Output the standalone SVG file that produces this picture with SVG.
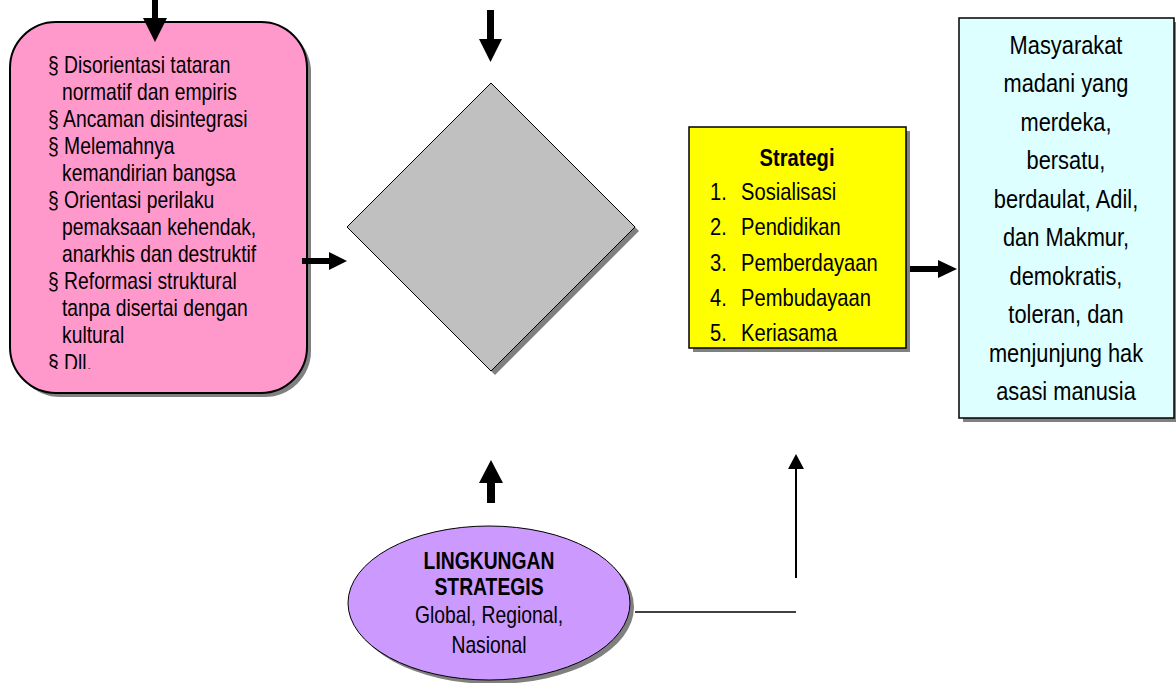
<svg xmlns="http://www.w3.org/2000/svg" width="1176" height="683" viewBox="0 0 1176 683">
<style>
.t{font-family:"Liberation Sans Narrow","Arial Narrow","Liberation Sans",Arial,sans-serif;fill:#000}
.p{font-size:23px}
.y{font-size:24px}
.c{font-size:26px;text-anchor:middle}
.e{font-size:23px;text-anchor:middle}
.b{font-weight:bold}
.sh{fill:#808080}
</style>
<defs>
<clipPath id="pclip"><rect x="10" y="22" width="297" height="347"/></clipPath>
</defs>
<g id="pink">
<rect x="14" y="26" width="297" height="371" rx="46" class="sh"/>
<rect x="10" y="22" width="297" height="371" rx="46" fill="#FF99CC" stroke="#000" stroke-width="2"/>
<g class="t p" clip-path="url(#pclip)">
<text transform="translate(48,73) scale(0.84,1)">§ Disorientasi tataran</text>
<text transform="translate(62,100) scale(0.84,1)">normatif dan empiris</text>
<text transform="translate(48,127) scale(0.84,1)">§ Ancaman disintegrasi</text>
<text transform="translate(48,154) scale(0.84,1)">§ Melemahnya</text>
<text transform="translate(62,181) scale(0.84,1)">kemandirian bangsa</text>
<text transform="translate(48,208) scale(0.84,1)">§ Orientasi perilaku</text>
<text transform="translate(62,235) scale(0.84,1)">pemaksaan kehendak,</text>
<text transform="translate(62,262) scale(0.84,1)">anarkhis dan destruktif</text>
<text transform="translate(48,289) scale(0.84,1)">§ Reformasi struktural</text>
<text transform="translate(62,316) scale(0.84,1)">tanpa disertai dengan</text>
<text transform="translate(62,343) scale(0.84,1)">kultural</text>
<text transform="translate(48,371) scale(0.84,1)">§ Dll.</text>
</g>
</g>
<g id="diamond">
<polygon points="495,87 639,231 495,375 351,231" class="sh"/>
<polygon points="491,83 635,227 491,371 347,227" fill="#C0C0C0" stroke="#000" stroke-width="1"/>
</g>
<g id="strategi">
<rect x="693" y="131" width="217" height="221" class="sh"/>
<rect x="689" y="127" width="217" height="221" fill="#FFFF00" stroke="#000" stroke-width="1.5"/>
<g class="t y">
<text transform="translate(797,166) scale(0.84,1)" text-anchor="middle" class="b">Strategi</text>
<text transform="translate(710,200) scale(0.84,1)">1.</text><text transform="translate(741,200) scale(0.84,1)">Sosialisasi</text>
<text transform="translate(710,235) scale(0.84,1)">2.</text><text transform="translate(741,235) scale(0.84,1)">Pendidikan</text>
<text transform="translate(710,271) scale(0.84,1)">3.</text><text transform="translate(741,271) scale(0.84,1)">Pemberdayaan</text>
<text transform="translate(710,306) scale(0.84,1)">4.</text><text transform="translate(741,306) scale(0.84,1)">Pembudayaan</text>
<text transform="translate(710,341) scale(0.84,1)">5.</text><text transform="translate(741,341) scale(0.84,1)">Keriasama</text>
</g>
</g>
<g id="masyarakat">
<rect x="963" y="22" width="215" height="400" class="sh"/>
<rect x="959" y="18" width="215" height="400" fill="#DDFFFF" stroke="#000" stroke-width="1.5"/>
<g class="t c">
<text transform="translate(1066,54) scale(0.84,1)">Masyarakat</text>
<text transform="translate(1066,92) scale(0.84,1)">madani yang</text>
<text transform="translate(1066,131) scale(0.84,1)">merdeka,</text>
<text transform="translate(1066,169) scale(0.84,1)">bersatu,</text>
<text transform="translate(1066,208) scale(0.84,1)">berdaulat, Adil,</text>
<text transform="translate(1066,246) scale(0.84,1)">dan Makmur,</text>
<text transform="translate(1066,285) scale(0.84,1)">demokratis,</text>
<text transform="translate(1066,323) scale(0.84,1)">toleran, dan</text>
<text transform="translate(1066,362) scale(0.84,1)">menjunjung hak</text>
<text transform="translate(1066,400) scale(0.84,1)">asasi manusia</text>
</g>
</g>
<g id="lingkungan">
<ellipse cx="493" cy="607" rx="141" ry="77" class="sh"/>
<ellipse cx="489" cy="603" rx="141" ry="77" fill="#CC99FF" stroke="#000" stroke-width="1"/>
<g class="t e">
<text transform="translate(489,569) scale(0.84,1)" class="b">LINGKUNGAN</text>
<text transform="translate(489,595) scale(0.84,1)" class="b">STRATEGIS</text>
<text transform="translate(489,623) scale(0.84,1)">Global, Regional,</text>
<text transform="translate(489,653) scale(0.84,1)">Nasional</text>
</g>
</g>
<g id="connectors">
<polygon points="152,0 158,0 158,18 167,18 155,42 143,18 152,18" fill="#000"/>
<polygon points="487,10 494,10 494,39 502,39 490.5,62 479,39 487,39" fill="#000"/>
<polygon points="302,258 329,258 329,252 347,261 329,270 329,264 302,264" fill="#000"/>
<polygon points="910,266 938,266 938,260 957,269 938,278 938,272 910,272" fill="#000"/>
<polygon points="487,503 495,503 495,483 503,483 491,460 479,483 487,483" fill="#000"/>
<line x1="635" y1="612" x2="796" y2="612" stroke="#000" stroke-width="1.5"/>
<line x1="796" y1="578" x2="796" y2="469" stroke="#000" stroke-width="2"/>
<polygon points="788,469 804,469 796,454" fill="#000"/>
</g>
</svg>
